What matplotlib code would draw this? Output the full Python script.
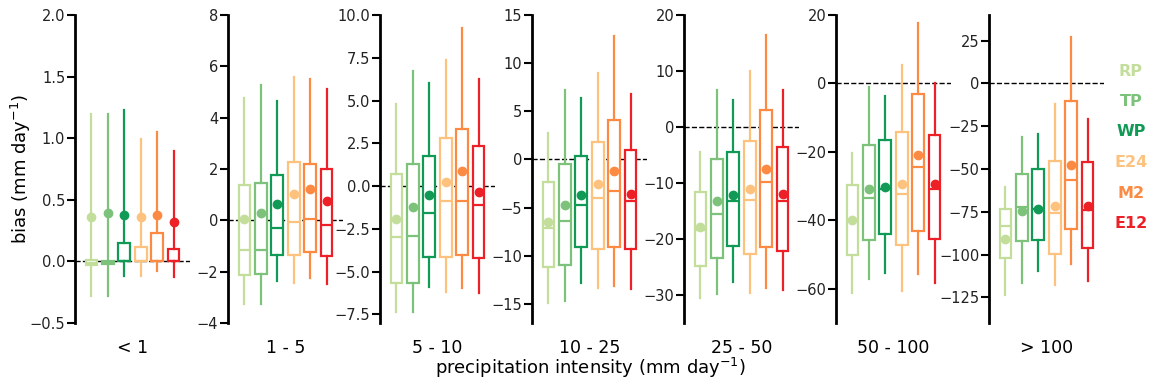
import matplotlib
matplotlib.use("Agg")
import matplotlib.pyplot as plt

categories = ["< 1", "1 - 5", "5 - 10", "10 - 25", "25 - 50", "50 - 100", "> 100"]
models = ["RP", "TP", "WP", "E24", "M2", "E12"]
colors = ["#c3de9b", "#7cc27b", "#119a55", "#fdc27d", "#fc8a43", "#ec2026"]

# per panel: rows = models; values = whislo, q1, med, q3, whishi, mean
stats_lt1 = [
    [-0.28, -0.027, -0.01, 0.01, 1.195, 0.36],
    [-0.28, -0.025, -0.01, 0.005, 1.195, 0.39],
    [-0.12, 0.0, 0.0, 0.15, 1.23, 0.373],
    [-0.12, 0.0, 0.0, 0.115, 0.99, 0.36],
    [-0.08, 0.0, 0.0, 0.23, 1.05, 0.373],
    [-0.13, 0.0, 0.0, 0.10, 0.90, 0.316],
]
stats_1_5 = [
    [-3.25, -2.12, -1.15, 1.36, 4.76, 0.05],
    [-3.25, -2.09, -1.15, 1.45, 5.27, 0.28],
    [-2.38, -1.37, -0.28, 1.75, 4.65, 0.64],
    [-2.44, -1.37, -0.08, 2.29, 5.60, 1.02],
    [-2.25, -1.23, 0.07, 2.19, 5.51, 1.24],
    [-2.47, -1.40, -0.20, 2.00, 5.10, 0.74],
]
stats_5_10 = [
    [-7.35, -5.65, -2.97, 0.73, 4.79, -1.92],
    [-7.35, -5.65, -2.89, 1.27, 6.73, -1.24],
    [-5.90, -4.13, -1.57, 1.76, 6.01, -0.50],
    [-6.20, -4.13, -0.85, 2.83, 7.37, 0.26],
    [-5.98, -4.04, -0.85, 3.36, 9.22, 0.88],
    [-6.24, -4.21, -1.10, 2.35, 6.26, -0.35],
]
stats_10_25 = [
    [-14.93, -11.23, -7.18, -2.40, 2.72, -6.49],
    [-14.76, -10.99, -6.38, -0.50, 7.21, -4.76],
    [-12.80, -9.08, -4.72, 0.40, 6.35, -3.69],
    [-13.37, -9.26, -4.00, 1.82, 8.98, -2.61],
    [-13.20, -9.08, -3.24, 4.07, 12.85, -1.16],
    [-13.44, -9.33, -4.31, 0.95, 6.80, -3.55],
]
stats_25_50 = [
    [-30.6, -24.8, -18.4, -11.6, -4.4, -17.8],
    [-29.8, -23.45, -15.6, -5.77, 6.6, -13.15],
    [-27.7, -21.2, -13.3, -4.4, 4.82, -12.1],
    [-29.6, -22.6, -13.1, -2.44, 10.0, -11.0],
    [-28.7, -21.4, -9.8, 3.04, 16.4, -7.5],
    [-29.1, -22.2, -13.3, -3.5, 6.6, -12.0],
]
stats_50_100 = [
    [-61.1, -50.2, -40.0, -29.8, -20.2, -40.0],
    [-57.0, -45.7, -33.6, -17.9, -1.0, -30.7],
    [-55.5, -43.9, -30.9, -16.5, -3.7, -30.2],
    [-60.6, -47.3, -32.2, -14.2, 5.25, -29.3],
    [-55.7, -43.1, -24.4, -3.2, 17.7, -20.9],
    [-58.4, -45.5, -30.9, -15.0, 0.2, -29.5],
]
stats_gt100 = [
    [-123.7, -101.8, -83.6, -73.1, -60.6, -90.7],
    [-116.5, -92.0, -72.5, -53.0, -31.3, -74.5],
    [-109.4, -91.3, -73.3, -49.8, -29.3, -73.3],
    [-117.8, -99.5, -76.0, -45.1, -12.3, -71.9],
    [-105.7, -85.0, -56.3, -10.4, 27.4, -47.9],
    [-115.3, -96.0, -73.9, -45.9, -20.5, -71.9],
]
panel_stats = [stats_lt1, stats_1_5, stats_5_10, stats_10_25, stats_25_50, stats_50_100, stats_gt100]
ylims = [(-0.5, 2.0), (-4, 8), (-8, 10), (-17, 15), (-35, 20), (-70, 20), (-140, 40)]
yticks = [
    [-0.5, 0.0, 0.5, 1.0, 1.5, 2.0],
    [-4, -2, 0, 2, 4, 6, 8],
    [-7.5, -5.0, -2.5, 0.0, 2.5, 5.0, 7.5, 10.0],
    [-15, -10, -5, 0, 5, 10, 15],
    [-30, -20, -10, 0, 10, 20],
    [-60, -40, -20, 0, 20],
    [-125, -100, -75, -50, -25, 0, 25],
]

W, H = 1154, 387
fig = plt.figure(figsize=(W / 100, H / 100), dpi=100)
lefts = [75, 228, 380, 532, 684, 836, 989]
ax_w = 115
top_px, bot_px = 15, 323


def fmt(v, decimals):
    s = f"{v:.{decimals}f}"
    return s.replace("-", "\u2212")


for i, (cat, st) in enumerate(zip(categories, panel_stats)):
    ax = fig.add_axes([lefts[i] / W, 1 - bot_px / H, ax_w / W, (bot_px - top_px) / H])
    ax.axhline(0, color="black", ls="--", lw=1.0, zorder=0)
    for j, row in enumerate(st):
        d = dict(whislo=row[0], q1=row[1], med=row[2], q3=row[3], whishi=row[4], mean=row[5])
        c = colors[j]
        ax.bxp([d], positions=[j + 1], widths=0.72, showcaps=False, showfliers=False,
               showmeans=True, patch_artist=True,
               boxprops=dict(facecolor="white", edgecolor=c, linewidth=1.6),
               whiskerprops=dict(color=c, linewidth=1.6),
               medianprops=dict(color=c, linewidth=1.6),
               meanprops=dict(marker="o", markerfacecolor=c, markeredgecolor=c, markersize=6))
    ax.set_xlim(0, 7)
    ax.set_ylim(*ylims[i])
    ax.set_yticks(yticks[i])
    dec = 1 if i in (0, 2) else 0
    ax.set_yticklabels([fmt(v, dec) for v in yticks[i]])
    for s in ["top", "right", "bottom"]:
        ax.spines[s].set_visible(False)
    ax.spines["left"].set_linewidth(2)
    ax.tick_params(axis="y", direction="out", length=6, width=1.5, labelsize=10.5, pad=1,
                   labelcolor="#222222")
    ax.set_xticks([])
    ax.text(0.5, -(348 - bot_px) / (bot_px - top_px), cat, transform=ax.transAxes,
            ha="center", va="center", fontsize=12.5)
    ax.patch.set_alpha(0)
    if i == 0:
        ax.set_ylabel("bias (mm day$^{-1}$)", fontsize=13)
        ax.yaxis.set_label_coords((33 - lefts[0]) / ax_w, 0.5)

fig.text(590 / W, 1 - 368 / H, "precipitation intensity (mm day$^{-1}$)",
         ha="center", va="center", fontsize=13)

legend_y = [72, 101, 131, 163, 193, 224]
for name, c, y in zip(models, colors, legend_y):
    fig.text(1131 / W, 1 - y / H, name, color=c, fontweight="bold", fontsize=11.5,
             ha="center", va="center")

fig.savefig("out.png", dpi=100)
